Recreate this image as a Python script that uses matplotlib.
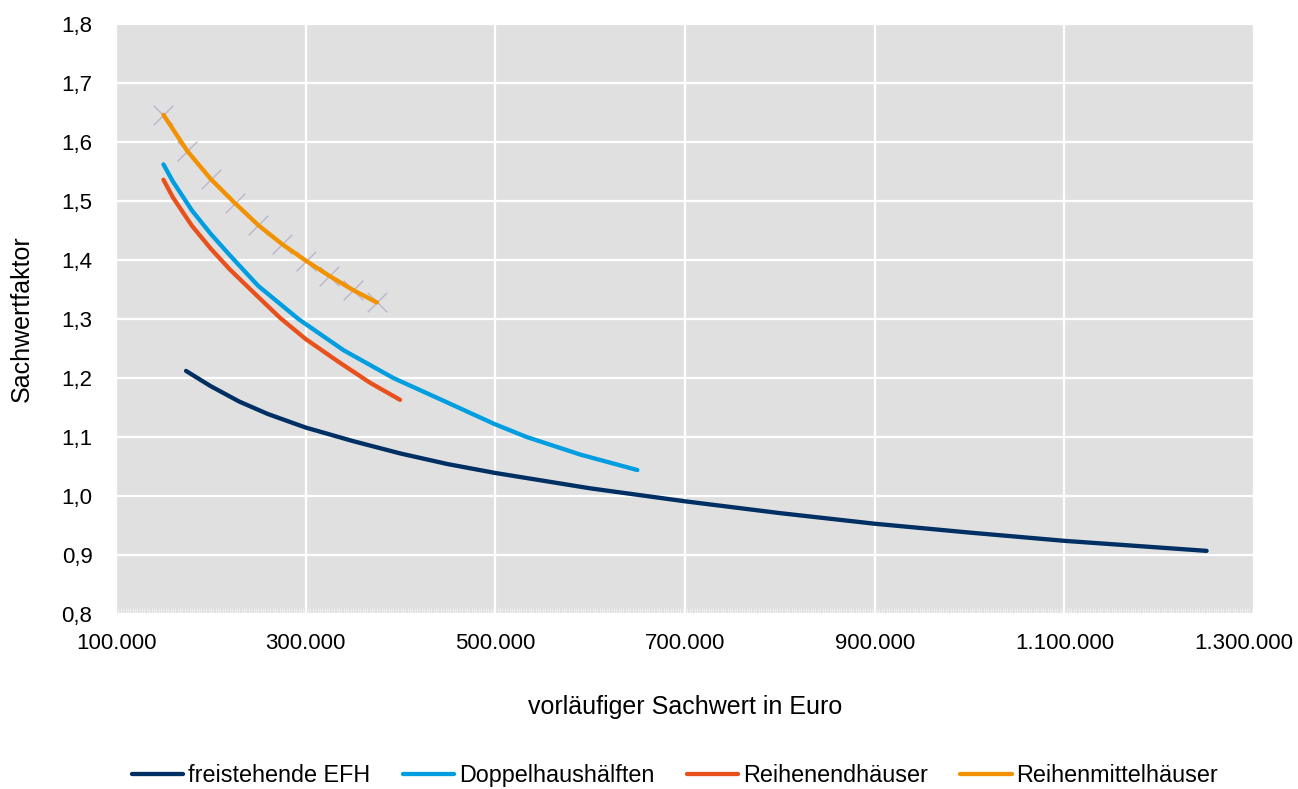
import matplotlib
matplotlib.use("Agg")
import matplotlib.pyplot as plt
from matplotlib.ticker import MultipleLocator, FuncFormatter
from matplotlib.transforms import ScaledTranslation

plt.rcParams['font.family'] = ['Liberation Sans', 'DejaVu Sans']

# freistehende EFH
efh_x = [173800, 200000, 230000, 260000, 300000, 350000, 400000, 450000, 500000,
         600000, 700000, 800000, 900000, 1000000, 1100000, 1250000]
efh_y = [1.212, 1.186, 1.160, 1.139, 1.116, 1.093, 1.072, 1.054, 1.039,
         1.013, 0.991, 0.971, 0.953, 0.938, 0.924, 0.907]

# Doppelhaushälften
dhh_x = [150000, 160000, 180000, 200000, 220000, 250000, 292300, 340000, 392400,
         450000, 499000, 533000, 590000, 649700]
dhh_y = [1.562, 1.533, 1.484, 1.444, 1.408, 1.356, 1.300, 1.247, 1.200,
         1.158, 1.122, 1.100, 1.070, 1.044]

# Reihenendhäuser
reh_x = [150000, 160000, 180000, 200000, 220000, 245000, 272900, 300000, 335000,
         367800, 399500]
reh_y = [1.536, 1.506, 1.458, 1.419, 1.384, 1.345, 1.302, 1.266, 1.227,
         1.192, 1.163]

# Reihenmittelhäuser
rmh_x = [150000, 175000, 200000, 225000, 250000, 275000, 300000, 325000, 350000, 375000]
rmh_y = [1.646, 1.585, 1.537, 1.497, 1.459, 1.427, 1.399, 1.373, 1.349, 1.328]

x_ticks = [100000, 300000, 500000, 700000, 900000, 1100000, 1300000]

names = ["freistehende EFH", "Doppelhaushälften", "Reihenendhäuser", "Reihenmittelhäuser"]
colors = ["#002F63", "#009EE0", "#E8511C", "#F39200"]

fig = plt.figure(figsize=(12.98, 7.89), dpi=100)
ax = fig.add_axes([0.0894, 0.2218, 0.8767, 0.7478])
ax.set_facecolor("#E0E0E0")
for s in ax.spines.values():
    s.set_visible(False)

ax.scatter(rmh_x, rmh_y, marker="x", s=200, color="#B9B6CC", linewidths=1.0, zorder=2)

for (x, y), name, c in zip([(efh_x, efh_y), (dhh_x, dhh_y), (reh_x, reh_y), (rmh_x, rmh_y)],
                           names, colors):
    ax.plot(x, y, color=c, lw=3.1, label=name, solid_capstyle="round",
            solid_joinstyle="round", zorder=3)

ax.set_xlim(100000, 1300000)
ax.set_ylim(0.8, 1.8)
ax.set_xticks(x_ticks)
ax.xaxis.set_minor_locator(MultipleLocator(2500))
ax.yaxis.set_major_locator(MultipleLocator(0.1))
ax.xaxis.set_major_formatter(FuncFormatter(lambda v, p: f"{int(round(v)):,}".replace(",", ".")))
ax.yaxis.set_major_formatter(FuncFormatter(lambda v, p: f"{v:.1f}".replace(".", ",")))
ax.grid(True, which="major", color="white", lw=1.6)
ax.set_axisbelow(True)
ax.tick_params(axis="both", which="major", length=0, labelsize=16, colors="black")
ax.tick_params(axis="x", which="major", pad=14)
ax.tick_params(axis="y", which="major", pad=17)
ax.tick_params(axis="x", which="minor", direction="in", length=4, width=0.6, color="#F2F2F2")

# last label pushed left so it stays inside the figure
last = ax.xaxis.get_major_ticks()[-1].label1
last.set_transform(last.get_transform() + ScaledTranslation(-0.1, 0, fig.dpi_scale_trans))

ax.set_xlabel("vorläufiger Sachwert in Euro", fontsize=18, labelpad=29)
ax.set_ylabel("Sachwertfaktor", fontsize=18, labelpad=20)

fig.legend(loc="center", bbox_to_anchor=(0.52, 0.017), ncol=4, frameon=False,
           fontsize=16.8, handlelength=2.2, handletextpad=0.2, columnspacing=1.4)

fig.savefig("out.png", dpi=100)
